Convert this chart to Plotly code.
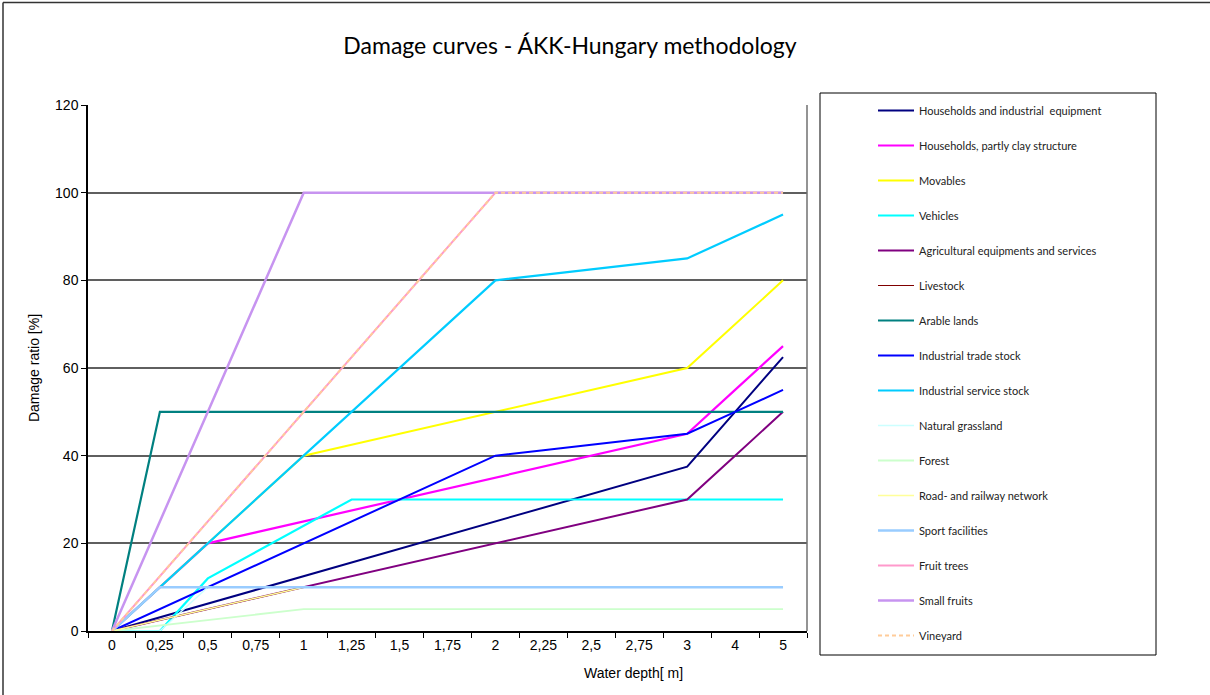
import plotly.graph_objects as go

# Water depth categories (m) and damage ratios (%) per asset class
depths = ["0", "0,25", "0,5", "0,75", "1", "1,25", "1,5", "1,75", "2",
          "2,25", "2,5", "2,75", "3", "4", "5"]

households_industrial = [0, 3.125, 6.25, 9.375, 12.5, 15.625, 18.75, 21.875, 25,
                         28.125, 31.25, 34.375, 37.5, 50, 62.5]
households_clay = [0, 10, 20, 22.5, 25, 27.5, 30, 32.5, 35, 37.5, 40, 42.5, 45, 55, 65]
movables = [0, 10, 20, 30, 40, 42.5, 45, 47.5, 50, 52.5, 55, 57.5, 60, 70, 80]
vehicles = [0, 0, 12, 18, 24, 30, 30, 30, 30, 30, 30, 30, 30, 30, 30]
agricultural = [0, 2.5, 5, 7.5, 10, 12.5, 15, 17.5, 20, 22.5, 25, 27.5, 30, 40, 50]
livestock = [0, 2.5, 5, 7.5, 10, 10, 10, 10, 10, 10, 10, 10, 10, 10, 10]
arable_lands = [0, 50, 50, 50, 50, 50, 50, 50, 50, 50, 50, 50, 50, 50, 50]
trade_stock = [0, 5, 10, 15, 20, 25, 30, 35, 40, 41.25, 42.5, 43.75, 45, 50, 55]
service_stock = [0, 10, 20, 30, 40, 50, 60, 70, 80, 81.25, 82.5, 83.75, 85, 90, 95]
grassland = [0, 0, 10, 10, 10, 10, 10, 10, 10, 10, 10, 10, 10, 10, 10]
forest = [0, 1.25, 2.5, 3.75, 5, 5, 5, 5, 5, 5, 5, 5, 5, 5, 5]
road_railway = [0, 2.5, 5, 7.5, 10, 10, 10, 10, 10, 10, 10, 10, 10, 10, 10]
sport = [0, 10, 10, 10, 10, 10, 10, 10, 10, 10, 10, 10, 10, 10, 10]
fruit_trees = [0, 12.5, 25, 37.5, 50, 62.5, 75, 87.5, 100, 100, 100, 100, 100, 100, 100]
small_fruits = [0, 25, 50, 75, 100, 100, 100, 100, 100, 100, 100, 100, 100, 100, 100]
vineyard = [0, 12.5, 25, 37.5, 50, 62.5, 75, 87.5, 100, 100, 100, 100, 100, 100, 100]

series = [
    ("Households and industrial  equipment", households_industrial, "#000080", 2, "solid"),
    ("Households, partly clay structure", households_clay, "#FF00FF", 2.2, "solid"),
    ("Movables", movables, "#FFFF00", 2, "solid"),
    ("Vehicles", vehicles, "#00FFFF", 2.2, "solid"),
    ("Agricultural equipments and services", agricultural, "#800080", 2, "solid"),
    ("Livestock", livestock, "#800000", 1.2, "solid"),
    ("Arable lands", arable_lands, "#008080", 2.2, "solid"),
    ("Industrial trade stock", trade_stock, "#0000FF", 2, "solid"),
    ("Industrial service stock", service_stock, "#00CCFF", 2.2, "solid"),
    ("Natural grassland", grassland, "#CCFFFF", 1.5, "solid"),
    ("Forest", forest, "#CCFFCC", 1.8, "solid"),
    ("Road- and railway network", road_railway, "#FFFF99", 1.5, "solid"),
    ("Sport facilities", sport, "#99CCFF", 2.5, "solid"),
    ("Fruit trees", fruit_trees, "#FF99CC", 2, "solid"),
    ("Small fruits", small_fruits, "#C794F0", 2.5, "solid"),
    ("Vineyard", vineyard, "#FFCC99", 2, "4px,3px"),
]

fig = go.Figure()
for i, (name, vals, color, width, dash) in enumerate(series):
    fig.add_trace(go.Scatter(
        x=depths, y=vals, name=name, mode="lines",
        line=dict(color=color, width=width, dash=dash),
        legendgroup=f"g{i}",
    ))

W, H = 1210, 695
L, R, T, B = 88, 807, 105, 631


def px(x):
    return (x - L) / (R - L)


def py(y):
    return (B - y) / (B - T)


fig.update_layout(
    width=W, height=H,
    margin=dict(l=L, r=W - R, t=T, b=H - B, pad=0),
    paper_bgcolor="white", plot_bgcolor="white",
    font=dict(family="Liberation Sans, Arial, sans-serif", size=14, color="black"),
    title=dict(text="Damage curves - ÁKK-Hungary methodology",
               xref="container", x=570 / W, xanchor="center",
               yref="container", y=1 - 46 / H, yanchor="middle",
               font=dict(family="Lato, sans-serif", size=23, color="black")),
    showlegend=True,
    legend=dict(
        x=px(873), xanchor="left", y=py(96), yanchor="top",
        bgcolor="rgba(0,0,0,0)", borderwidth=0,
        font=dict(family="Lato, sans-serif", size=11, color="#222222"),
        tracegroupgap=16, itemwidth=36, maxheight=650,
    ),
    xaxis=dict(
        type="category", range=[-0.5, 14.5],
        showline=True, linecolor="black", linewidth=1.5,
        ticks="outside", ticklen=5, tickcolor="black", tickson="boundaries",
        showgrid=False, zeroline=False,
        tickfont=dict(size=14),
    ),
    yaxis=dict(
        range=[0, 120], dtick=20,
        showline=True, linecolor="black", linewidth=1.5,
        ticks="outside", ticklen=5, tickcolor="black",
        showgrid=True, gridcolor="#5f5f5f", gridwidth=1.5,
        zeroline=False,
        title=dict(text="Damage ratio [%]", font=dict(size=14), standoff=12),
        tickfont=dict(size=14),
    ),
    shapes=[
        # right border of the plotting area
        dict(type="line", xref="paper", yref="paper", x0=1, x1=1, y0=0, y1=1,
             line=dict(color="#707070", width=1.5)),
        # legend frame
        dict(type="rect", xref="paper", yref="paper",
             x0=px(820), x1=px(1156), y0=py(93), y1=py(655),
             line=dict(color="black", width=1)),
        # chart frame, top and left edges
        dict(type="line", xref="paper", yref="paper",
             x0=px(3), x1=px(1210), y0=py(2.5), y1=py(2.5),
             line=dict(color="#333333", width=1.5)),
        dict(type="line", xref="paper", yref="paper",
             x0=px(3), x1=px(3), y0=py(2.5), y1=py(695),
             line=dict(color="#333333", width=1.5)),
    ],
    annotations=[
        dict(text="Water depth[ m]", xref="paper", yref="paper",
             x=px(633), y=py(673), xanchor="center", yanchor="middle",
             showarrow=False, font=dict(size=14, color="black")),
    ],
)

fig.write_html("out.html")
